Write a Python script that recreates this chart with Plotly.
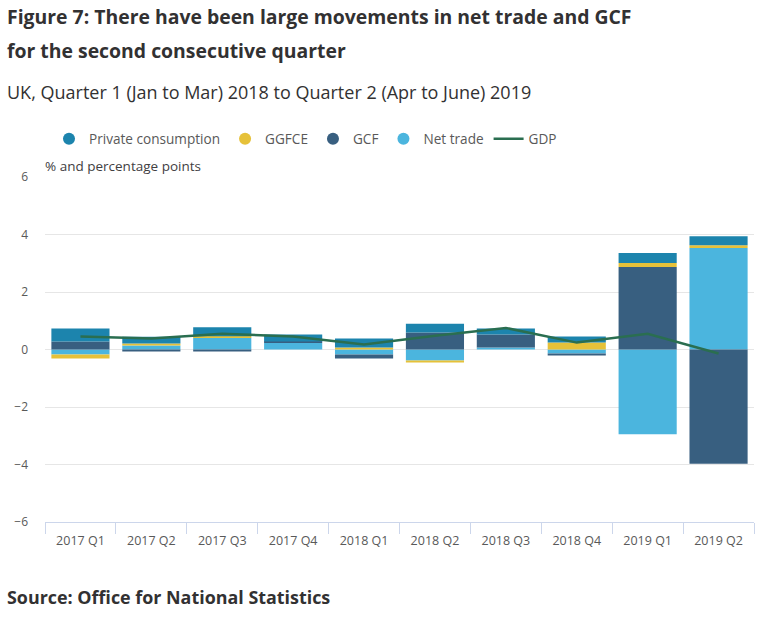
import plotly.graph_objects as go

quarters = ["2017 Q1", "2017 Q2", "2017 Q3", "2017 Q4", "2018 Q1",
            "2018 Q2", "2018 Q3", "2018 Q4", "2019 Q1", "2019 Q2"]
private_consumption = [0.45, 0.23, 0.31, 0.24, 0.31, 0.31, 0.21, 0.21, 0.35, 0.31]
ggfce = [-0.14, 0.07, 0.05, 0.0, 0.07, -0.07, 0.0, 0.24, 0.14, 0.10]
gcf = [0.28, -0.07, -0.07, 0.05, -0.14, 0.59, 0.45, -0.07, 2.87, -3.97]
net_trade = [-0.17, 0.14, 0.41, 0.23, -0.17, -0.38, 0.07, -0.14, -2.95, 3.53]
gdp = [0.45, 0.38, 0.55, 0.45, 0.17, 0.48, 0.75, 0.24, 0.55, -0.14]

C_PC = "#1c84ad"
C_GG = "#e6c139"
C_GCF = "#385f80"
C_NT = "#4bb5de"
C_GDP = "#2a6e50"
FONT = "Open Sans"

fig = go.Figure()
# bars (stack order: net trade nearest zero, then GCF, GGFCE, private consumption)
for name, vals, col in [("Net trade", net_trade, C_NT), ("GCF", gcf, C_GCF),
                        ("GGFCE", ggfce, C_GG), ("Private consumption", private_consumption, C_PC)]:
    fig.add_trace(go.Bar(x=quarters, y=vals, name=name, marker=dict(color=col, line=dict(width=0)),
                         showlegend=False))
fig.add_trace(go.Scatter(x=quarters, y=gdp, name="GDP", mode="lines",
                         line=dict(color=C_GDP, width=2.5), showlegend=False))

# legend entries with circle symbols
for rank, (name, col) in enumerate([("Private consumption", C_PC), ("GGFCE", C_GG),
                                    ("GCF", C_GCF), ("Net trade", C_NT)], start=1):
    fig.add_trace(go.Scatter(x=[None], y=[None], mode="markers", name=name,
                             marker=dict(color=col, size=12, symbol="circle"),
                             legendrank=rank))
fig.add_trace(go.Scatter(x=[None], y=[None], mode="lines", name="GDP",
                         line=dict(color=C_GDP, width=2.5), legendrank=5))

L, R, T, B = 45, 754, 177, 522
W, H = 779, 619
def px(x):
    return (x - L) / (R - L)
def py(y):
    return (B - y) / (B - T)

fig.update_layout(
    width=W, height=H,
    margin=dict(l=L, r=W - R, t=T, b=H - B, pad=0),
    paper_bgcolor="white", plot_bgcolor="white",
    barmode="relative", bargap=0.18,
    font=dict(family=FONT, color="#595959"),
    legend=dict(orientation="h", x=px(49), xanchor="left", y=py(139), yanchor="middle",
                font=dict(size=13.6, color="#595959", family=FONT), itemsizing="trace",
                traceorder="normal", bgcolor="rgba(0,0,0,0)", itemwidth=30),
    xaxis=dict(showgrid=False, showline=True, linecolor="#ccd6eb", linewidth=1,
               ticks="outside", tickson="boundaries", ticklen=11, tickcolor="#ccd6eb",
               ticklabelstandoff=7,
               tickfont=dict(size=12.5, color="#595959", family=FONT), fixedrange=True),
    yaxis=dict(range=[-6, 6], dtick=2, tick0=0, showgrid=True, gridcolor="#e6e6e6",
               gridwidth=1, zeroline=False, showline=False, ticks="",
               ticklabelstandoff=16,
               tickfont=dict(size=12, color="#595959", family=FONT)),
    showlegend=True,
)

annos = [
    dict(text="<b>Figure 7: There have been large movements in net trade and GCF</b>",
         x=px(5), y=py(17), size=19.4, color="#323132"),
    dict(text="<b>for the second consecutive quarter</b>",
         x=px(5), y=py(50), size=19.4, color="#323132"),
    dict(text="UK, Quarter 1 (Jan to Mar) 2018 to Quarter 2 (Apr to June) 2019",
         x=px(5), y=py(92), size=18, color="#323132"),
    dict(text="% and percentage points", x=px(43), y=py(166), size=13.5, color="#414042"),
    dict(text="<b>Source: Office for National Statistics</b>",
         x=px(5), y=py(597), size=17.9, color="#323132"),
]
for a in annos:
    fig.add_annotation(text=a["text"], x=a["x"], y=a["y"], xref="paper", yref="paper",
                       xanchor="left", yanchor="middle", showarrow=False,
                       font=dict(size=a["size"], color=a["color"], family=FONT))

fig.write_html("out.html")
